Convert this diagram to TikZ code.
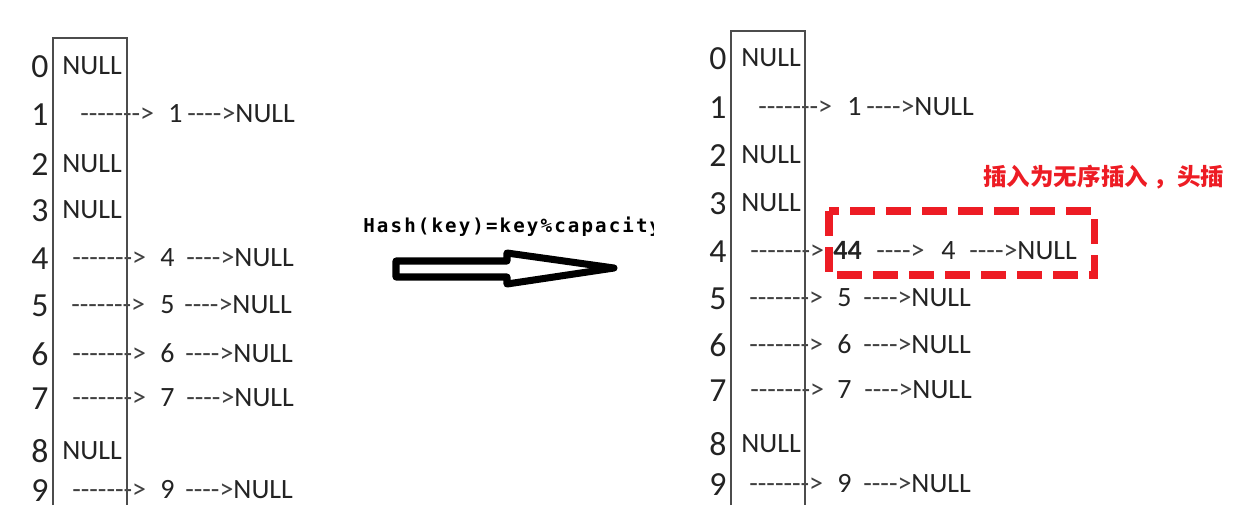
\documentclass[tikz,border=0pt]{standalone}
\usepackage{fontspec}
\newfontfamily\chainfont{Carlito}
\newfontfamily\cjk{Noto Sans CJK SC}
\newfontfamily\hashfont{DejaVu Sans Mono}[LetterSpace=11]
\definecolor{NoteRed}{RGB}{237, 28, 36}
\definecolor{InkGray}{RGB}{35, 35, 35}
\newcommand\cellfont{\chainfont\fontsize{15.9}{18}\selectfont}
\newcommand\idxfont{\chainfont\fontsize{19.2}{21}\selectfont}
\usetikzlibrary{arrows.meta}

\begin{document}
\begin{tikzpicture}[
                x=0.02cm, y=-0.02cm,
                idx/.style={anchor=base west, inner sep=0pt, font=\idxfont, text=InkGray},
                cell/.style={anchor=base west, inner sep=0pt, font=\cellfont, text=InkGray},
                link/.style={anchor=base west, inner sep=0pt, font=\cellfont, text=black!75},
                column/.style={draw=black!70, line width=0.7pt},
                hash/.style={anchor=base west, inner sep=0pt, font=\hashfont\bfseries\fontsize{10.9}{13}\selectfont},
                hollow/.style={draw=black, line width=4pt, line join=round},
                insert/.style={draw=NoteRed, line width=4pt, dash pattern=on 14pt off 6.5pt},
                note/.style={anchor=base west, inner sep=0pt, text=NoteRed, font=\cjk\bfseries\fontsize{13.4}{16}\selectfont}
            ]
                \useasboundingbox (0,0) rectangle (1250,505);

                % table before
                \node[idx] (a0) at (31,77) {0};
                \node[idx] (a1) at (31,125) {1};
                \node[idx] (a2) at (31,175) {2};
                \node[idx] (a3) at (31,221) {3};
                \node[idx] (a4) at (31,269) {4};
                \node[idx] (a5) at (31,316) {5};
                \node[idx] (a6) at (31,365) {6};
                \node[idx] (a7) at (31,409) {7};
                \node[idx] (a8) at (31,462) {8};
                \node[idx] (a9) at (31,501) {9};

                \node[cell] (a0null) at (62,74) {NULL};
                \node[cell] (a2null) at (62,172) {NULL};
                \node[cell] (a3null) at (62,218) {NULL};
                \node[cell] (a8null) at (62,459) {NULL};

                \node[link] (a1p) at (80,122) {------->};
                \node[cell] (a1v) at (168,122) {1};
                \node[link] (a1n) at (187,122) {---->\textcolor{InkGray}{NULL}};
                \node[link] (a4p) at (72,266) {------->};
                \node[cell] (a4v) at (160,266) {4};
                \node[link] (a4n) at (186,266) {---->\textcolor{InkGray}{NULL}};
                \node[link] (a5p) at (71,313) {------->};
                \node[cell] (a5v) at (160,313) {5};
                \node[link] (a5n) at (184,313) {---->\textcolor{InkGray}{NULL}};
                \node[link] (a6p) at (72,362) {------->};
                \node[cell] (a6v) at (160,362) {6};
                \node[link] (a6n) at (185,362) {---->\textcolor{InkGray}{NULL}};
                \node[link] (a7p) at (72,406) {------->};
                \node[cell] (a7v) at (160,406) {7};
                \node[link] (a7n) at (186,406) {---->\textcolor{InkGray}{NULL}};
                \node[link] (a9p) at (72,498) {------->};
                \node[cell] (a9v) at (160,498) {9};
                \node[link] (a9n) at (185,498) {---->\textcolor{InkGray}{NULL}};

                \draw[column] (53,505) -- (53,38) -- (127,38) -- (127,505);

                % hash function and hollow arrow
                \begin{scope}
                    \clip (340,195) rectangle (653,245);
                    \node[hash] (hash) at (363,232) {Hash(key)=key\%capacity};
                \end{scope}
                \draw[hollow] (396,261) -- (507,261) -- (507,253) -- (614,268)
                    -- (507,284) -- (507,277) -- (396,277) -- cycle;

                % table after
                \node[idx] (b0) at (709,69) {0};
                \node[idx] (b1) at (709,118) {1};
                \node[idx] (b2) at (709,166) {2};
                \node[idx] (b3) at (709,214) {3};
                \node[idx] (b4) at (709,262) {4};
                \node[idx] (b5) at (709,309) {5};
                \node[idx] (b6) at (709,356) {6};
                \node[idx] (b7) at (709,401) {7};
                \node[idx] (b8) at (709,455) {8};
                \node[idx] (b9) at (709,495) {9};

                \node[cell] (b0null) at (741,66) {NULL};
                \node[cell] (b2null) at (741,163) {NULL};
                \node[cell] (b3null) at (741,211) {NULL};
                \node[cell] (b8null) at (741,452) {NULL};

                \node[link] (b1p) at (758,115) {------->};
                \node[cell] (b1v) at (847,115) {1};
                \node[link] (b1n) at (866,115) {---->\textcolor{InkGray}{NULL}};
                \node[link] (b4p) at (750,259) {------->};
                \node[cell, font=\cellfont\bfseries] (b4new) at (833,259) {44};
                \node[link] (b4q) at (876,259) {---->};
                \node[cell] (b4v) at (941,259) {4};
                \node[link] (b4n) at (969,259) {---->\textcolor{InkGray}{NULL}};
                \node[link] (b5p) at (749,306) {------->};
                \node[cell] (b5v) at (837,306) {5};
                \node[link] (b5n) at (863,306) {---->\textcolor{InkGray}{NULL}};
                \node[link] (b6p) at (749,353) {------->};
                \node[cell] (b6v) at (837,353) {6};
                \node[link] (b6n) at (863,353) {---->\textcolor{InkGray}{NULL}};
                \node[link] (b7p) at (750,398) {------->};
                \node[cell] (b7v) at (837,398) {7};
                \node[link] (b7n) at (864,398) {---->\textcolor{InkGray}{NULL}};
                \node[link] (b9p) at (749,492) {------->};
                \node[cell] (b9v) at (837,492) {9};
                \node[link] (b9n) at (863,492) {---->\textcolor{InkGray}{NULL}};

                \draw[column] (731,505) -- (731,31) -- (805,31) -- (805,505);

                % head insertion
                \draw[insert] (829,211) rectangle (1094,275);
                \node[note] (note) at (983,185) {插入为无序插入 ，头插};
            \end{tikzpicture}
\end{document}
